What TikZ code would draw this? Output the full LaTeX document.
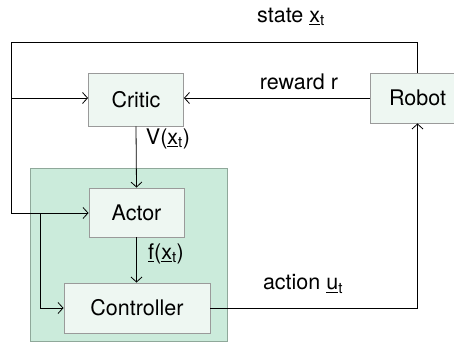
\documentclass[tikz,border=0pt]{standalone}
\usepackage{fontspec}
\setmainfont{TeX Gyre Heros}
\usetikzlibrary{arrows.meta}
\definecolor{boxfill}{HTML}{EEF7F2}
\definecolor{boxborder}{HTML}{9A9A9A}
\definecolor{greenfill}{HTML}{CBEBDB}
\definecolor{greenborder}{HTML}{8FA89A}
\begin{document}
\begin{tikzpicture}[x=1pt,y=-1pt,
  blk/.style={draw=boxborder, fill=boxfill, line width=0.9pt, inner sep=0pt,
    minimum width=95pt, minimum height=50pt, font=\fontsize{21.5}{25}\selectfont},
  area/.style={draw=greenborder, fill=greenfill, line width=0.9pt, inner sep=0pt},
  conn/.style={line width=0.8pt, -{Straight Barb[length=5pt,width=11pt]}},
  wire/.style={line width=0.8pt},
  lbl/.style={inner sep=0pt, font=\fontsize{21.5}{25}\selectfont}]
\useasboundingbox (0,0) rectangle (454,342);
\clip (0,0) rectangle (454,342);
\fill[white] (0,0) rectangle (454,342);

\node[area, minimum width=197pt, minimum height=173pt] (group) at (128.5,254.5) {};

\node[blk, minimum height=53pt] (critic) at (136,99.5) {Critic};
\node[blk] (robot) at (417.5,98) {Robot};
\node[blk, minimum height=49pt] (actor) at (136.5,212.5) {Actor};
\node[blk, minimum width=146pt] (controller) at (137,308) {Controller};

\coordinate (tl) at (11,42);
\coordinate (bl) at (11,213);
\coordinate (sj) at (11,98);
\coordinate (br) at (40,213);

\draw[conn] (robot.west |- 0,98) -- (critic.east |- 0,98);
\draw[wire] (robot.north) |- (tl) -- (bl);
\draw[conn] (bl) -- (actor.west |- bl);
\draw[conn] (sj) -- (critic.west |- sj);
\draw[conn] (br) |- (controller.west);
\draw[conn] (critic.south) -- (actor.north);
\draw[conn] (actor.south) -- (actor.south |- controller.north);
\draw[conn] (controller.east) -| (robot.south);

\node[lbl] (lstate) at (291,17) {state \underline{x}\textsubscript{t}};
\node[lbl] (lreward) at (299,82) {reward r};
\node[lbl] (lv) at (168,139) {V(\underline{x}\textsubscript{t})};
\node[lbl] (lf) at (166,254) {\underline{f}(\underline{x}\textsubscript{t})};
\node[lbl] (laction) at (303,284) {action \underline{u}\textsubscript{t}};
\end{tikzpicture}
\end{document}
